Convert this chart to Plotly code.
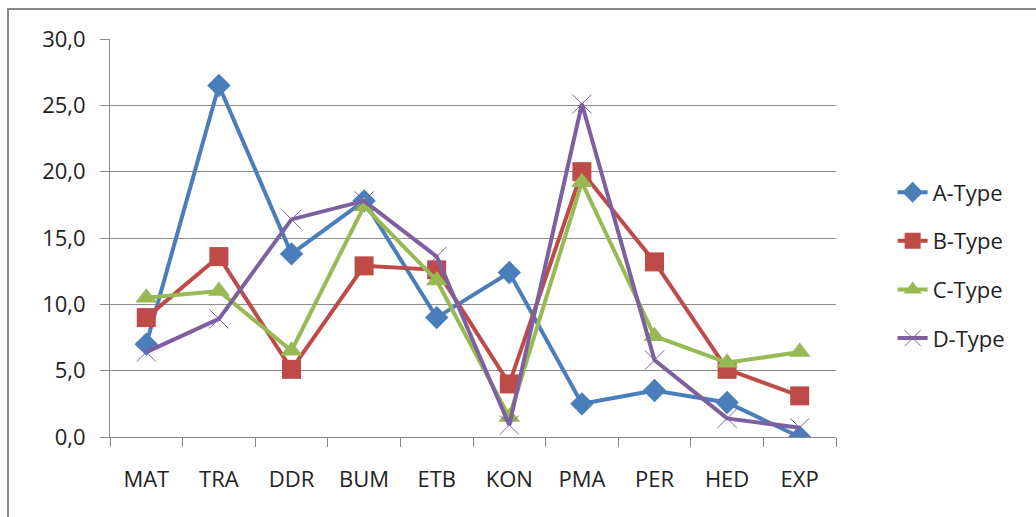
import plotly.graph_objects as go

categories = ["MAT", "TRA", "DDR", "BUM", "ETB", "KON", "PMA", "PER", "HED", "EXP"]
a_type = [7.0, 26.5, 13.8, 17.8, 9.0, 12.4, 2.5, 3.5, 2.6, 0.0]
b_type = [9.0, 13.6, 5.1, 12.9, 12.6, 4.0, 20.0, 13.2, 5.1, 3.1]
c_type = [10.5, 11.0, 6.5, 17.4, 11.8, 1.5, 19.2, 7.6, 5.6, 6.4]
d_type = [6.4, 8.9, 16.4, 17.8, 13.6, 0.9, 25.1, 5.8, 1.4, 0.7]
y_ticks = [0, 5, 10, 15, 20, 25, 30]

series = [
    ("A-Type", a_type, "#4a7ebb", "diamond", 18),
    ("B-Type", b_type, "#be4b48", "square", 19),
    ("C-Type", c_type, "#98b954", "triangle-up", 19),
    ("D-Type", d_type, "#7d60a0", "x-thin", 19),
]

fig = go.Figure()
for name, vals, color, sym, size in series:
    marker = dict(symbol=sym, size=size, color=color)
    if sym == "x-thin":
        marker["line"] = dict(color=color, width=1)
    fig.add_trace(go.Scatter(
        x=categories, y=vals, name=name, mode="lines+markers",
        legendgroup=name,
        line=dict(color=color, width=4), marker=marker,
    ))

font = "Open Sans, Liberation Sans, sans-serif"
fig.update_layout(
    width=1036, height=517,
    margin=dict(l=110, r=200, t=39, b=80),
    paper_bgcolor="white", plot_bgcolor="white",
    separators=", ",
    font=dict(family=font, size=22, color="#222"),
    legend=dict(x=1.078, y=0.431, yanchor="middle", xanchor="left",
                font=dict(size=22), tracegroupgap=17),
    showlegend=True,
)
fig.update_xaxes(
    type="category", showgrid=False, showline=True, linecolor="#888", linewidth=1,
    ticks="outside", tickson="boundaries", ticklen=9, tickcolor="#888",
    ticklabelstandoff=23, range=[-0.5, 9.5], tickfont=dict(size=22),
)
fig.update_yaxes(
    range=[0, 30], tickvals=y_ticks, tickformat=".1f",
    showgrid=True, gridcolor="#8c8c8c", gridwidth=1,
    showline=True, linecolor="#888", linewidth=1,
    ticks="outside", ticklen=9, tickcolor="#888", ticklabelstandoff=10,
    zeroline=False, tickfont=dict(size=22),
)
fig.add_shape(type="rect", xref="paper", yref="paper",
              x0=-0.1405, x1=1.6, y0=-0.6, y1=1.0754,
              line=dict(color="#8a8a8a", width=2), layer="below")
fig.write_html("out.html")
